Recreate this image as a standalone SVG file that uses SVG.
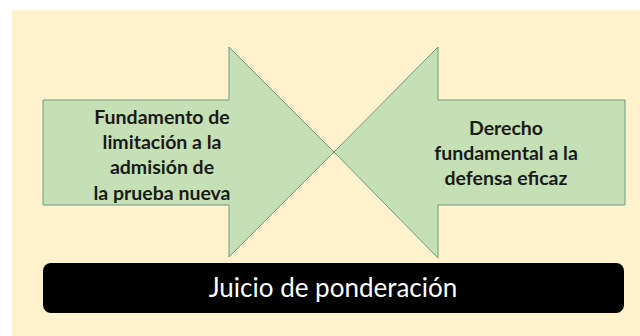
<svg xmlns="http://www.w3.org/2000/svg" width="640" height="336" viewBox="0 0 640 336">
<style>
.arrow{fill:#C5E0B4;stroke:#6E9A80;stroke-width:1}
.lbl{font-family:Lato,"Open Sans","Liberation Sans",sans-serif;font-weight:bold;font-size:19.5px;fill:#1a1a1a;text-anchor:middle}
.title{font-family:Lato,"Open Sans","Liberation Sans",sans-serif;font-size:26px;fill:#ffffff;text-anchor:middle}
</style>
<rect x="0" y="0" width="640" height="336" fill="#ffffff"/>
<rect x="12" y="10" width="628" height="326" fill="#FFF2CC"/>
<g id="left-arrow">
<polygon class="arrow" points="43,100 229,100 229,47 334,152 229,257 229,205 43,205"/>
<text class="lbl" x="162" y="124">Fundamento de</text>
<text class="lbl" x="162" y="149">limitación a la</text>
<text class="lbl" x="162" y="174">admisión de</text>
<text class="lbl" x="162" y="200">la prueba nueva</text>
</g>
<g id="right-arrow">
<polygon class="arrow" points="625,100 438,100 438,47 334,152 438,258 438,205 625,205"/>
<text class="lbl" x="506" y="135">Derecho</text>
<text class="lbl" x="506" y="160">fundamental a la</text>
<text class="lbl" x="506" y="185">defensa eficaz</text>
</g>
<g id="connectors"></g>
<g id="juicio">
<rect x="43" y="263" width="581" height="50" rx="8" ry="8" fill="#000000"/>
<text class="title" x="333" y="297">Juicio de ponderación</text>
</g>
</svg>
